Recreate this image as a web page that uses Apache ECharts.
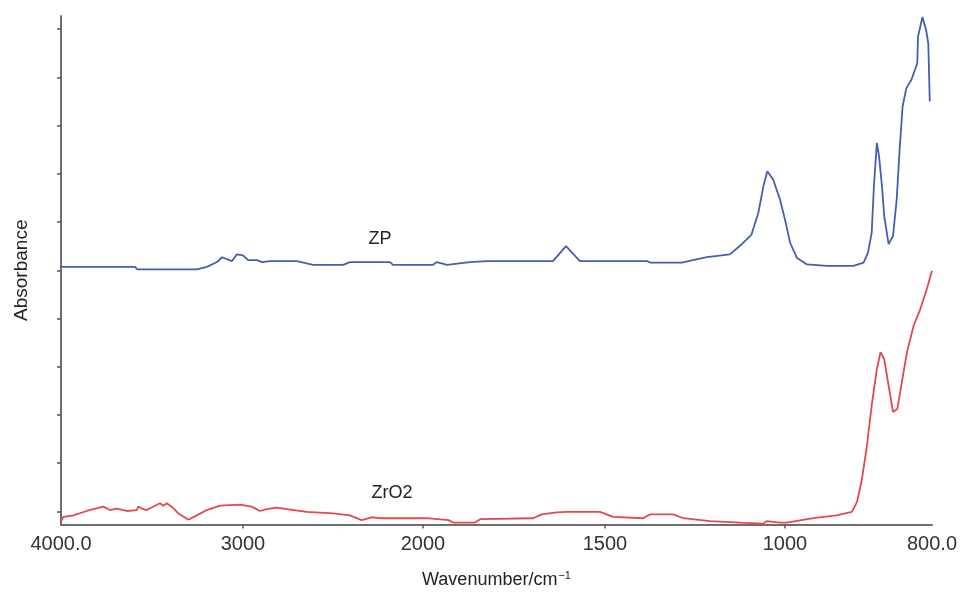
<!DOCTYPE html>
<html>
<head>
<meta charset="utf-8">
<script src="https://cdn.jsdelivr.net/npm/echarts@6/dist/echarts.min.js"></script>
<style>html,body{margin:0;padding:0;background:#fff}#c{width:960px;height:594px}</style>
</head>
<body>
<div id="c"></div>
<script>
// Axis tick wavenumbers and their labels (the original axis is piecewise-scaled)
const TICK_WN = [4000, 3000, 2000, 1500, 1000, 800];
const TICK_LABELS = ['4000.0', '3000', '2000', '1500', '1000', '800.0'];
// relative axis units at which each tick wavenumber sits (piecewise-linear scale)
const AXIS_BREAKS = [0, 182, 362, 544, 724, 871];
const Y_TICKS = [0,1,2,3,4,5,6,7,8,9,10];

// ZP spectrum
const zpWn = [4000,3593,3582,3253,3198,3143,3115,3060,3033,3000,2972,2922,2894,2850,2700,2611,2444,2406,2183,2167,2000,1973,1962,1934,1871,1824,1761,1643,1607,1591,1569,1383,1375,1286,1256,1217,1153,1120,1093,1074,1060,1049,1033,1014,1000,993,984,970,943,907,893,887,882,879,875,872,868,865,859,853,848,844,840,835,828,820,819,813,808,805,803];
const zpAbs = [5.07,5.07,5.02,5.02,5.07,5.17,5.27,5.19,5.33,5.31,5.21,5.21,5.17,5.19,5.19,5.11,5.11,5.17,5.17,5.11,5.11,5.11,5.17,5.11,5.17,5.19,5.19,5.19,5.50,5.37,5.19,5.19,5.16,5.16,5.21,5.27,5.33,5.54,5.74,6.19,6.74,7.05,6.88,6.47,6.05,5.57,5.26,5.12,5.09,5.09,5.16,5.37,5.78,6.74,7.64,7.36,6.74,6.12,5.54,5.71,6.47,7.50,8.39,8.77,8.95,9.29,9.84,10.25,9.98,9.70,8.50];

// ZrO2 spectrum
const zro2Wn = [4000,3987,3932,3859,3768,3731,3694,3639,3584,3575,3557,3529,3456,3438,3419,3392,3355,3300,3254,3199,3126,3016,2952,2906,2868,2813,2757,2646,2498,2406,2341,2285,2239,1990,1930,1917,1857,1843,1697,1674,1633,1605,1514,1477,1394,1375,1310,1283,1208,1125,1060,1051,1014,998,961,930,909,902,896,889,882,875,870,865,859,853,847,841,834,825,816,807,800];
const zro2Abs = [-0.21,-0.11,-0.08,0.01,0.10,0.03,0.06,0.01,0.03,0.10,0.06,0.03,0.17,0.12,0.17,0.10,-0.04,-0.17,-0.08,0.03,0.12,0.14,0.10,0.01,0.05,0.08,0.05,-0.01,-0.04,-0.08,-0.18,-0.12,-0.14,-0.14,-0.18,-0.23,-0.23,-0.16,-0.14,-0.06,-0.02,-0.01,-0.01,-0.11,-0.14,-0.06,-0.06,-0.14,-0.20,-0.23,-0.25,-0.20,-0.23,-0.23,-0.14,-0.08,-0.01,0.20,0.61,1.30,2.20,2.95,3.30,3.16,2.61,2.06,2.13,2.68,3.30,3.85,4.19,4.61,4.99];

// curve annotations [text, wavenumber, absorbance]
const annotations = [['ZP', 2239, 5.64], ['ZrO2', 2172, 0.39]];

function toAxis(wn) {
  for (let i = 0; i < TICK_WN.length - 1; i++) {
    const a = TICK_WN[i], b = TICK_WN[i + 1];
    if (wn <= a && wn >= b) {
      return AXIS_BREAKS[i] + (a - wn) / (a - b) * (AXIS_BREAKS[i + 1] - AXIS_BREAKS[i]);
    }
  }
  return wn > TICK_WN[0] ? AXIS_BREAKS[0] : AXIS_BREAKS[AXIS_BREAKS.length - 1];
}
function pairs(wn, ab) { return wn.map((w, i) => [toAxis(w), ab[i]]); }
function labelFor(v) {
  const i = AXIS_BREAKS.findIndex(p => Math.abs(p - v) < 0.5);
  return i >= 0 ? TICK_LABELS[i] : '';
}
const font = 'Liberation Sans, Arial, sans-serif';
function mark(a) {
  return {
    symbol: 'circle', symbolSize: 1, silent: true,
    itemStyle: { color: 'rgba(0,0,0,0)' },
    label: { show: true, position: 'inside', color: '#222', fontSize: 18, fontFamily: font, formatter: a[0] },
    data: [{ coord: [toAxis(a[1]), a[2]] }]
  };
}

const chart = echarts.init(document.getElementById('c'), null, { renderer: 'canvas' });
chart.setOption({
  animation: false,
  backgroundColor: '#fff',
  grid: { left: 61, right: 28, top: 16, bottom: 68, containLabel: false },
  xAxis: {
    type: 'value', min: AXIS_BREAKS[0], max: AXIS_BREAKS[AXIS_BREAKS.length - 1],
    name: 'Wavenumber/cm{sup|−1}', nameLocation: 'middle', nameGap: 46,
    nameTextStyle: { color: '#222', fontSize: 18, fontFamily: font,
      rich: { sup: { fontSize: 11, verticalAlign: 'top', padding: [0, 0, 8, 1], color: '#222' } } },
    axisLine: { show: true, onZero: false, lineStyle: { color: '#6e6e6e', width: 2 } },
    axisTick: { show: true, customValues: AXIS_BREAKS.slice(1, 5), length: 4, lineStyle: { color: '#555', width: 1.5 } },
    axisLabel: { show: true, customValues: AXIS_BREAKS, formatter: labelFor, color: '#333', fontSize: 20, fontFamily: font, margin: 10, showMinLabel: true, showMaxLabel: true },
    splitLine: { show: false }
  },
  yAxis: {
    type: 'value', min: -0.27, max: 10.27,
    name: 'Absorbance', nameLocation: 'middle', nameGap: 30, nameRotate: 90,
    nameTextStyle: { color: '#222', fontSize: 19, fontFamily: font },
    axisLine: { show: true, onZero: false, lineStyle: { color: '#6e6e6e', width: 2 } },
    axisTick: { show: true, customValues: Y_TICKS, length: 4, lineStyle: { color: '#555', width: 1.5 } },
    axisLabel: { show: false },
    splitLine: { show: false }
  },
  series: [
    { name: 'ZP', type: 'line', data: pairs(zpWn, zpAbs), showSymbol: false, symbol: 'none',
      lineStyle: { color: '#4360b0', width: 1.8 }, markPoint: mark(annotations[0]) },
    { name: 'ZrO2', type: 'line', data: pairs(zro2Wn, zro2Abs), showSymbol: false, symbol: 'none',
      lineStyle: { color: '#e24a4a', width: 1.8 }, markPoint: mark(annotations[1]) }
  ]
});
</script>
</body>
</html>
